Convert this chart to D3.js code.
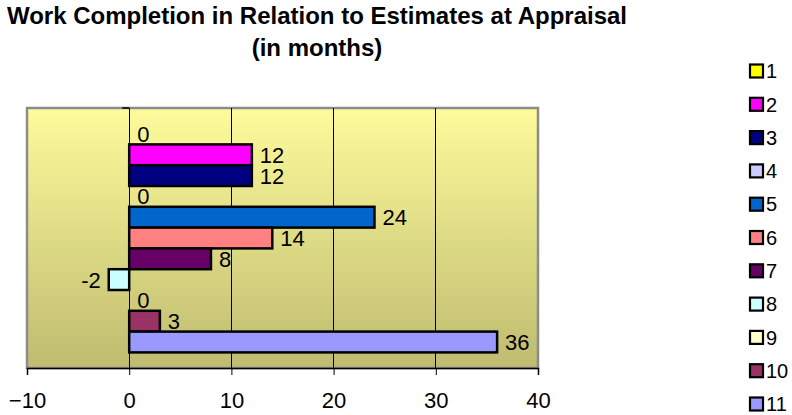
<!DOCTYPE html>
<html>
<head>
<meta charset="utf-8">
<script src="https://cdn.jsdelivr.net/npm/d3@7"></script>
<style>
  html, body { margin: 0; padding: 0; background: #fff; }
  svg { display: block; font-family: "Liberation Sans", Arial, sans-serif; }
</style>
</head>
<body>
<svg id="chart" width="792" height="415"></svg>
<script>
// Delay in work completion relative to appraisal estimates, one bar per project
const seriesNames = ["1", "2", "3", "4", "5", "6", "7", "8", "9", "10", "11"];
const seriesValues = [0, 12, 12, 0, 24, 14, 8, -2, 0, 3, 36];
const seriesColors = ["#FFFF00", "#FF00FF", "#000080", "#CCCCFF", "#0066CC", "#FF8080",
                      "#660066", "#CCFFFF", "#FFFFCC", "#993366", "#9999FF"];
const xTicks = [-10, 0, 10, 20, 30, 40];
const titleLines = ["Work Completion in Relation to Estimates at Appraisal", "(in months)"];

const svg = d3.select("#chart");
const plot = { left: 27, right: 538, top: 108, bottom: 368 };

const x = d3.scaleLinear().domain([-10, 40]).range([plot.left, plot.right]);
// Excel-style gap: 150% of one bar split over both ends of the cluster
const y = d3.scaleBand().domain(seriesNames).range([plot.top, plot.bottom])
  .paddingInner(0).paddingOuter(0.75);

// Plot background gradient
const defs = svg.append("defs");
const grad = defs.append("linearGradient").attr("id", "bg")
  .attr("x1", 0).attr("y1", 0).attr("x2", 0).attr("y2", 1);
grad.append("stop").attr("offset", "0%").attr("stop-color", "#FDFB9B");
grad.append("stop").attr("offset", "100%").attr("stop-color", "#BFBB70");

svg.append("rect")
  .attr("x", plot.left).attr("y", plot.top)
  .attr("width", plot.right - plot.left).attr("height", plot.bottom - plot.top)
  .attr("fill", "url(#bg)").attr("stroke", "#8C8C8C").attr("stroke-width", 2.5);

// Vertical gridlines
svg.append("g").selectAll("line")
  .data(xTicks.filter(d => d > -10 && d < 40))
  .join("line")
  .attr("x1", d => x(d)).attr("x2", d => x(d))
  .attr("y1", plot.top).attr("y2", plot.bottom)
  .attr("stroke", "#000").attr("stroke-width", 1).attr("shape-rendering", "crispEdges");

// Category axis tick at the top of the zero line
svg.append("line")
  .attr("x1", x(0) - 7).attr("x2", x(0))
  .attr("y1", plot.top).attr("y2", plot.top)
  .attr("stroke", "#000").attr("stroke-width", 1.5);

// Bars
svg.append("g").selectAll("rect")
  .data(seriesValues.map((v, i) => ({ name: seriesNames[i], value: v, color: seriesColors[i] })))
  .join("rect")
  .attr("x", d => x(Math.min(0, d.value)))
  .attr("y", d => y(d.name))
  .attr("width", d => Math.abs(x(d.value) - x(0)))
  .attr("height", y.bandwidth())
  .attr("fill", d => d.color)
  .attr("stroke", d => d.value === 0 ? "none" : "#000")
  .attr("stroke-width", 2.5);

// Value labels
svg.append("g").selectAll("text")
  .data(seriesValues.map((v, i) => ({ name: seriesNames[i], value: v })))
  .join("text")
  .attr("x", d => d.value < 0 ? x(d.value) - 8 : x(d.value) + 8)
  .attr("y", d => y(d.name) + y.bandwidth() / 2)
  .attr("dy", "0.36em")
  .attr("text-anchor", d => d.value < 0 ? "end" : "start")
  .attr("font-size", 22)
  .attr("fill", "#000")
  .text(d => d.value);

// Value axis at the bottom
const xAxis = svg.append("g")
  .attr("transform", `translate(0,${plot.bottom})`)
  .call(d3.axisBottom(x).tickValues(xTicks).tickSize(7).tickPadding(17).tickFormat(d3.format("d")));
xAxis.select(".domain").attr("stroke", "#000").attr("stroke-width", 1.5);
xAxis.selectAll(".tick line").attr("stroke", "#000");
xAxis.selectAll(".tick text")
  .attr("font-size", 22).attr("font-family", "Liberation Sans, Arial, sans-serif").attr("fill", "#000");

// Title
svg.append("g").selectAll("text")
  .data(titleLines)
  .join("text")
  .attr("x", 317)
  .attr("y", (d, i) => 24 + i * 32)
  .attr("text-anchor", "middle")
  .attr("font-size", 24)
  .attr("font-weight", "bold")
  .attr("fill", "#000")
  .text(d => d);

// Legend
const legend = svg.append("g").selectAll("g")
  .data(seriesNames.map((n, i) => ({ name: n, color: seriesColors[i] })))
  .join("g")
  .attr("transform", (d, i) => `translate(750,${71 + i * 33.3})`);
legend.append("rect")
  .attr("x", 0).attr("y", -6.5).attr("width", 13).attr("height", 13)
  .attr("fill", d => d.color).attr("stroke", "#000").attr("stroke-width", 2.2);
legend.append("text")
  .attr("x", 16).attr("y", 0).attr("dy", "0.36em")
  .attr("font-size", 20).attr("fill", "#000")
  .text(d => d.name);
</script>
</body>
</html>
